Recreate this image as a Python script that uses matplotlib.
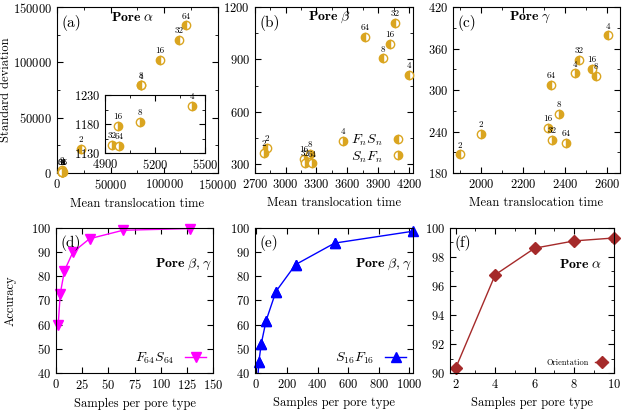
import numpy as np
import matplotlib
matplotlib.use('Agg')
import matplotlib.pyplot as plt
from matplotlib.ticker import AutoMinorLocator, MultipleLocator

plt.rcParams['font.family'] = 'serif'
plt.rcParams['font.serif'] = ['cmr10', 'DejaVu Serif']
plt.rcParams['mathtext.fontset'] = 'cm'
plt.rcParams['axes.formatter.use_mathtext'] = True
plt.rcParams['font.size'] = 9

GOLD = '#DAA520'

# pore labels n
n_vals = [2, 4, 8, 16, 32, 64]

# (a) pore alpha
a_fs_x = [22000, 78000, 78500, 95700, 113700, 120600]
a_fs_y = [22000, 79200, 79800, 102400, 120500, 133400]
a_sf_x = [4500, 5422, 5110, 4978, 4942, 4984]
a_sf_y = [2500, 1211, 1183, 1177, 1144, 1143]

# (b) pore beta
b_fs_x = [2817, 4200, 3950, 4017, 4067, 3773]
b_fs_y = [395, 813, 906, 987, 1107, 1029]
b_sf_x = [2790, 3557, 3240, 3180, 3190, 3255]
b_sf_y = [366, 433, 360, 330, 310, 305]

# (c) pore gamma
c_fs_x = [1899, 2603, 2544, 2528, 2467, 2331]
c_fs_y = [207, 379, 321, 330, 343, 307]
c_sf_x = [1997, 2448, 2371, 2317, 2339, 2403]
c_sf_y = [237, 324, 265, 245, 228, 224]

# (d) F64S64
d_x = [2, 4, 8, 16, 32, 64, 128]
d_y = [59.7, 72.8, 82.3, 89.9, 95.5, 99.0, 99.7]

# (e) S16F16
e_x = [8, 16, 32, 64, 128, 256, 512, 1024]
e_y = [36.0, 44.4, 52.1, 61.7, 73.7, 84.8, 93.7, 98.6]

# (f) orientation
f_x = [2, 4, 6, 8, 10]
f_y = [90.35, 96.77, 98.6, 99.1, 99.3]

inset_xticks = [4900, 5200, 5500]
inset_yticks = [1130, 1180, 1230]


def style(ax, minor=True):
    ax.tick_params(direction='in', top=True, right=True, which='both', length=4, labelsize=9)
    ax.tick_params(which='minor', length=2)
    if minor:
        ax.xaxis.set_minor_locator(AutoMinorLocator(2))
        ax.yaxis.set_minor_locator(AutoMinorLocator(2))


def scatter_pair(ax, fx, fy, sx, sy, labels=True, legend=False):
    ax.plot(fx, fy, 'o', ms=6, color=GOLD, fillstyle='left', markerfacecoloralt='white',
            mec=GOLD, mew=1, clip_on=False, label=r'$F_nS_n$', zorder=3)
    ax.plot(sx, sy, 'o', ms=6, color=GOLD, fillstyle='right', markerfacecoloralt='white',
            mec=GOLD, mew=1, clip_on=False, label=r'$S_nF_n$', zorder=3)
    if labels:
        for xs, ys in [(fx, fy), (sx, sy)]:
            for n, x, y in zip(n_vals, xs, ys):
                ax.annotate(str(n), (x, y), xytext=(0, 3.5), textcoords='offset points',
                            ha='center', va='bottom', fontsize=6.5, annotation_clip=False)
    if legend:
        ax.legend(loc='lower right', frameon=False, markerfirst=False, handlelength=1.0,
                  handletextpad=0.6, fontsize=10, borderaxespad=0.2, labelspacing=0.1)


fig = plt.figure(figsize=(6.23, 4.15), dpi=100)

top_b, top_h = 0.583, 0.400
bot_b, bot_h = 0.101, 0.350
ax_a = fig.add_axes([0.0915, top_b, 0.258, top_h])
ax_b = fig.add_axes([0.409, top_b, 0.254, top_h])
ax_c = fig.add_axes([0.727, top_b, 0.268, top_h])
ax_d = fig.add_axes([0.090, bot_b, 0.252, bot_h])
ax_e = fig.add_axes([0.409, bot_b, 0.254, bot_h])
ax_f = fig.add_axes([0.722, bot_b, 0.263, bot_h])

# (a)
scatter_pair(ax_a, a_fs_x, a_fs_y, a_sf_x, a_sf_y)
ax_a.set_xlim(0, 150000)
ax_a.set_ylim(0, 150000)
ax_a.xaxis.set_major_locator(MultipleLocator(50000))
ax_a.yaxis.set_major_locator(MultipleLocator(50000))
style(ax_a)
ax_a.set_xlabel('Mean translocation time')
ax_a.set_ylabel('Standard deviation')
ax_a.yaxis.set_label_coords(-0.28, 0.5)
ax_a.text(0.03, 0.95, '(a)', transform=ax_a.transAxes, fontsize=11, va='top')
ax_a.text(0.47, 0.94, r'$\mathbf{Pore}\ \alpha$', transform=ax_a.transAxes, ha='center', va='center', fontsize=10)

ins = fig.add_axes([0.1685, 0.631, 0.1605, 0.140])
ins.plot(a_sf_x[1:], a_sf_y[1:], 'o', ms=6, color=GOLD, fillstyle='right', markerfacecoloralt='white',
         mec=GOLD, mew=1, clip_on=False)
for n, x, y in zip(n_vals[1:], a_sf_x[1:], a_sf_y[1:]):
    ins.annotate(str(n), (x, y), xytext=(0, 3.5), textcoords='offset points',
                 ha='center', va='bottom', fontsize=6.5, annotation_clip=False)
ins.set_xlim(4900, 5500)
ins.set_ylim(1130, 1230)
ins.set_xticks(inset_xticks)
ins.set_yticks(inset_yticks)
style(ins)

# (b)
scatter_pair(ax_b, b_fs_x, b_fs_y, b_sf_x, b_sf_y, legend=True)
ax_b.set_xlim(2700, 4240)
ax_b.set_ylim(250, 1200)
ax_b.xaxis.set_major_locator(MultipleLocator(300))
ax_b.yaxis.set_major_locator(MultipleLocator(300))
style(ax_b)
ax_b.set_xlabel('Mean translocation time')
ax_b.text(0.03, 0.95, '(b)', transform=ax_b.transAxes, fontsize=11, va='top')
ax_b.text(0.47, 0.94, r'$\mathbf{Pore}\ \beta$', transform=ax_b.transAxes, ha='center', va='center', fontsize=10)

# (c)
scatter_pair(ax_c, c_fs_x, c_fs_y, c_sf_x, c_sf_y)
ax_c.set_xlim(1865, 2660)
ax_c.set_ylim(180, 420)
ax_c.xaxis.set_major_locator(MultipleLocator(200))
ax_c.yaxis.set_major_locator(MultipleLocator(60))
style(ax_c)
ax_c.set_xlabel('Mean translocation time')
ax_c.text(0.03, 0.95, '(c)', transform=ax_c.transAxes, fontsize=11, va='top')
ax_c.text(0.46, 0.94, r'$\mathbf{Pore}\ \gamma$', transform=ax_c.transAxes, ha='center', va='center', fontsize=10)

# (d)
ax_d.plot(d_x, d_y, '-v', color='#FF00FF', ms=7, lw=1, clip_on=False, label=r'$F_{64}S_{64}$')
ax_d.set_xlim(0, 150)
ax_d.set_ylim(40, 100)
ax_d.xaxis.set_major_locator(MultipleLocator(25))
ax_d.yaxis.set_major_locator(MultipleLocator(10))
style(ax_d, minor=False)
ax_d.set_xlabel('Samples per pore type')
ax_d.set_ylabel('Accuracy')
ax_d.yaxis.set_label_coords(-0.25, 0.5)
ax_d.text(0.03, 0.95, '(d)', transform=ax_d.transAxes, fontsize=11, va='top')
ax_d.text(0.99, 0.75, r'$\mathbf{Pore}\ \beta,\gamma$', transform=ax_d.transAxes, ha='right', va='center', fontsize=10)
ax_d.legend(loc='lower right', frameon=False, markerfirst=False, handlelength=1.5,
            fontsize=10, borderaxespad=0.1)

# (e)
ax_e.plot(e_x, e_y, '-^', color='#0000FF', ms=7, lw=1, label=r'$S_{16}F_{16}$')
ax_e.plot(e_x[1:], e_y[1:], '^', color='#0000FF', ms=7, clip_on=False)
ax_e.set_xlim(-10, 1024)
ax_e.set_ylim(40, 100)
ax_e.xaxis.set_major_locator(MultipleLocator(200))
ax_e.yaxis.set_major_locator(MultipleLocator(10))
style(ax_e, minor=False)
ax_e.set_xlabel('Samples per pore type')
ax_e.text(0.03, 0.95, '(e)', transform=ax_e.transAxes, fontsize=11, va='top')
ax_e.text(0.99, 0.75, r'$\mathbf{Pore}\ \beta,\gamma$', transform=ax_e.transAxes, ha='right', va='center', fontsize=10)
ax_e.legend(loc='lower right', frameon=False, markerfirst=False, handlelength=1.5,
            fontsize=10, borderaxespad=0.1)

# (f)
ax_f.plot(f_x, f_y, '-D', color='#A52A2A', ms=6, lw=1, clip_on=False, label='Orientation')
ax_f.set_xlim(1.7, 10)
ax_f.set_ylim(90, 100)
ax_f.xaxis.set_major_locator(MultipleLocator(2))
ax_f.yaxis.set_major_locator(MultipleLocator(2))
style(ax_f)
ax_f.set_xlabel('Samples per pore type')
ax_f.text(0.03, 0.95, '(f)', transform=ax_f.transAxes, fontsize=11, va='top')
ax_f.text(0.93, 0.75, r'$\mathbf{Pore}\ \alpha$', transform=ax_f.transAxes, ha='right', va='center', fontsize=10)
ax_f.legend(loc='lower right', frameon=False, markerfirst=False, handlelength=1.5,
            fontsize=6, borderaxespad=0.3)

fig.savefig('out.png', dpi=100)
